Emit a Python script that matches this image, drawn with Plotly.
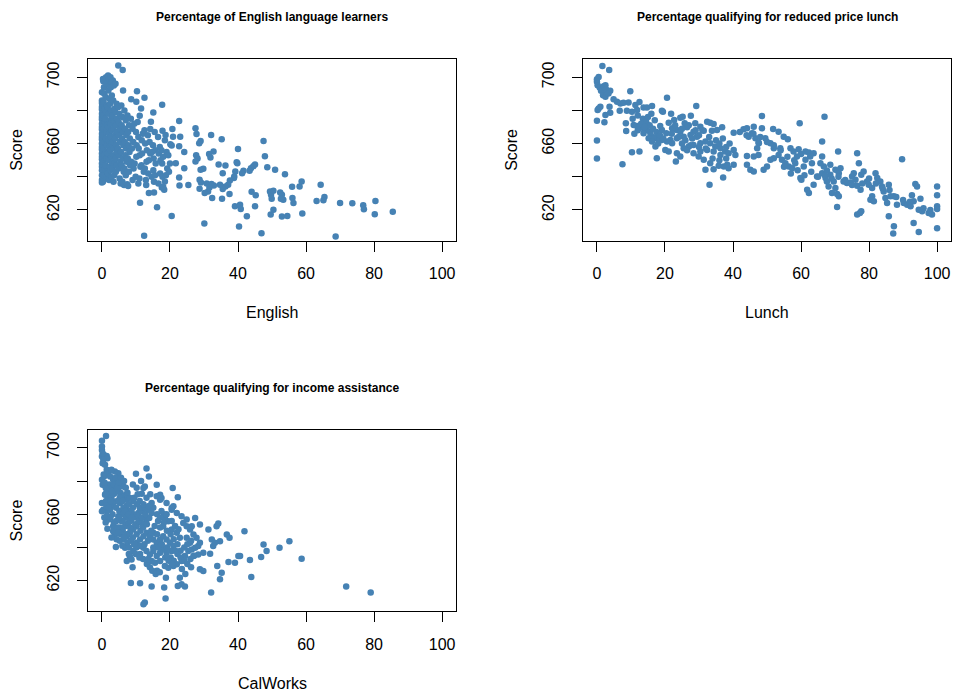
# three scatter panels: test score against school characteristics

import plotly.graph_objects as go

POINT_COLOR = "#4682B4"
FONT = "Liberation Sans, Arial, sans-serif"

titles = [
    "Percentage of English language learners",
    "Percentage qualifying for reduced price lunch",
    "Percentage qualifying for income assistance",
]
x_labels = ["English", "Lunch", "CalWorks"]
y_label = "Score"

x_ticks = [0, 20, 40, 60, 80, 100]
y_ticks = [620, 640, 660, 680, 700]
y_tick_text = ["620", "", "660", "", "700"]

# (English %, score)
english_pts = [
    (4.8, 707.0), (6.1, 704.4), (6.2, 692.0), (10.3, 691.6), (12.5, 687.6), (8.6, 686.8), (10.1, 685.2),
    (17.7, 683.4), (11.5, 681.2), (15.1, 678.8), (11.1, 676.8), (22.7, 673.6), (14.4, 673.2), (27.5, 669.2),
    (17.8, 667.8), (20.7, 668.8), (14.2, 668.8), (32.1, 665.2), (35.2, 662.6), (27.8, 665.8), (23.0, 664.2),
    (20.9, 664.2), (18.7, 665.2), (29.0, 661.6), (28.6, 660.2), (47.5, 661.6), (40.0, 656.8), (47.9, 652.4),
    (32.8, 655.2), (31.5, 653.8), (31.9, 651.6), (24.2, 655.0), (22.7, 658.4), (20.1, 659.6), (20.5, 658.8),
    (27.7, 653.0), (28.1, 651.0), (27.5, 649.2), (21.7, 648.2), (24.2, 645.2), (22.7, 639.6), (22.8, 634.8),
    (25.4, 635.0), (34.3, 647.4), (36.3, 646.8), (35.5, 642.2), (39.6, 648.8), (39.8, 648.2), (29.8, 644.8),
    (29.0, 644.2), (28.7, 638.2), (29.1, 636.6), (30.8, 636.0), (48.6, 645.8), (50.9, 644.2), (53.8, 641.6),
    (45.0, 647.4), (44.5, 646.4), (43.8, 645.2), (43.4, 643.6), (41.6, 643.6), (41.2, 642.2), (39.2, 643.2),
    (38.9, 640.2), (38.8, 639.2), (37.6, 637.8), (37.1, 635.2), (36.3, 634.2), (35.5, 632.6), (34.7, 635.2),
    (32.9, 634.8), (32.2, 635.6), (31.6, 633.6), (31.2, 631.2), (30.2, 630.2), (28.7, 632.8), (32.4, 627.2),
    (35.3, 626.8), (37.5, 629.6), (44.0, 631.0), (45.2, 628.8), (45.0, 622.2), (49.4, 631.2), (49.7, 629.2),
    (49.9, 626.8), (50.4, 631.6), (52.4, 630.6), (52.9, 629.2), (53.3, 626.2), (52.6, 626.8), (55.9, 634.0),
    (56.0, 627.2), (56.3, 624.2), (58.1, 634.2), (58.7, 637.2), (58.9, 617.8), (64.3, 635.2), (65.4, 627.8),
    (65.1, 625.8), (63.1, 625.4), (70.0, 624.2), (73.6, 624.0), (76.8, 622.8), (77.0, 620.4), (80.4, 625.4),
    (80.2, 617.4), (85.5, 619.0), (68.7, 604.0), (46.9, 606.0), (40.3, 610.0), (42.6, 616.2), (49.6, 617.2),
    (50.4, 620.2), (52.9, 616.0), (54.5, 616.4), (39.1, 622.2), (40.6, 623.2), (40.8, 620.6), (30.1, 611.8),
    (20.5, 616.4), (16.2, 621.6), (11.2, 624.4), (12.4, 604.4), (13.8, 630.2), (15.3, 630.6), (17.6, 633.6),
    (18.3, 632.2), (18.5, 637.2),
    (0.0, 686.0), (0.0, 684.5), (0.0, 682.0), (0.0, 680.5), (0.0, 678.0), (0.0, 676.0), (0.0, 674.5),
    (0.0, 672.0), (0.0, 670.0), (0.0, 668.5), (0.0, 666.0), (0.0, 664.0), (0.0, 662.5), (0.0, 660.0),
    (0.0, 658.0), (0.0, 656.5), (0.0, 654.0), (0.0, 652.0), (0.0, 650.5), (0.0, 648.0), (0.0, 646.0),
    (0.0, 644.0), (0.0, 641.0), (0.0, 638.0), (0.0, 636.5), (0.0, 691.0),
    (0.3, 699.0), (0.4, 697.5), (0.6, 694.0), (0.7, 690.0), (0.5, 685.0), (0.8, 681.0), (0.4, 677.0),
    (0.9, 673.0), (0.6, 669.0), (0.3, 665.0), (0.8, 661.0), (0.5, 657.0), (0.7, 653.0), (0.4, 649.0),
    (0.9, 645.0), (0.6, 641.0), (0.3, 637.0),
    (1.2, 700.0), (1.0, 698.0), (1.4, 696.0), (1.1, 688.0), (1.5, 683.0), (1.2, 679.0), (1.0, 675.0),
    (1.6, 671.0), (1.3, 667.0), (1.1, 663.0), (1.5, 659.0), (1.2, 655.0), (1.4, 651.0), (1.0, 647.0),
    (1.6, 643.0), (1.3, 639.0),
    (1.8, 701.0), (2.1, 699.0), (2.3, 695.0), (1.9, 692.0), (2.2, 687.0), (1.7, 682.0), (2.0, 678.0),
    (2.3, 674.0), (1.8, 670.0), (2.1, 666.0), (1.9, 662.0), (2.3, 658.0), (1.7, 654.0), (2.0, 650.0),
    (2.2, 646.0), (1.8, 642.0), (2.1, 638.0),
    (2.5, 700.0), (2.8, 697.0), (2.6, 694.0), (2.9, 689.0), (2.4, 684.0), (2.7, 680.0), (3.0, 676.0),
    (2.5, 672.0), (2.8, 668.0), (2.6, 664.0), (2.9, 660.0), (2.4, 656.0), (2.7, 652.0), (3.0, 648.0),
    (2.5, 644.0), (2.8, 640.0),
    (3.2, 698.0), (3.5, 695.0), (3.3, 686.0), (3.7, 681.0), (3.1, 677.0), (3.6, 673.0), (3.4, 669.0),
    (3.8, 665.0), (3.2, 661.0), (3.5, 657.0), (3.3, 653.0), (3.7, 649.0), (3.1, 645.0), (3.6, 641.0),
    (3.4, 637.0),
    (4.0, 696.0), (4.3, 684.0), (3.9, 679.0), (4.4, 675.0), (4.1, 671.0), (4.5, 667.0), (3.9, 663.0),
    (4.2, 659.0), (4.4, 655.0), (4.0, 651.0), (4.3, 647.0), (4.1, 643.0),
    (4.8, 682.0), (5.1, 678.0), (4.9, 673.0), (5.3, 669.0), (5.0, 665.0), (5.2, 661.0), (4.7, 657.0),
    (5.1, 653.0), (5.4, 649.0), (4.9, 645.0), (5.2, 639.0), (5.5, 636.0),
    (5.7, 683.0), (6.0, 676.0), (5.8, 671.0), (6.2, 667.0), (5.9, 663.0), (6.3, 659.0), (5.6, 655.0),
    (6.1, 651.0), (5.8, 647.0), (6.4, 643.0), (6.0, 637.0), (6.5, 635.0),
    (6.6, 680.0), (7.0, 674.0), (6.8, 669.0), (7.2, 665.0), (6.7, 661.0), (7.1, 657.0), (6.9, 653.0),
    (7.3, 649.0), (6.6, 645.0), (7.0, 641.0), (7.4, 635.5),
    (7.5, 677.0), (8.0, 671.0), (7.7, 667.0), (8.2, 663.0), (7.8, 659.0), (8.1, 655.0), (7.6, 651.0),
    (8.3, 647.0), (7.9, 643.0), (7.7, 634.5),
    (8.5, 675.0), (9.0, 669.0), (9.2, 661.0), (8.8, 657.0), (8.6, 649.0),
    (9.3, 645.0), (9.0, 638.0),
    (9.5, 672.0), (10.0, 667.0), (10.2, 659.0), (10.1, 652.0), (9.6, 648.0),
    (9.9, 640.0),
    (10.5, 673.0), (10.7, 664.0), (10.8, 657.0), (11.1, 653.0),
    (11.3, 646.0), (11.0, 639.0), (10.7, 636.0),
    (12.0, 666.0), (11.7, 662.0), (11.8, 654.0), (11.6, 647.0),
    (12.3, 643.0),
    (12.5, 668.0), (12.7, 660.0), (13.2, 656.0), (13.1, 649.0), (12.6, 645.0),
    (12.9, 638.0), (13.0, 635.0),
    (13.5, 665.0), (14.0, 661.0), (14.2, 654.0), (13.8, 650.0), (13.6, 642.0),
    (15.0, 659.0), (14.7, 655.0), (15.2, 651.0), (15.1, 644.0), (14.6, 640.0),
    (15.3, 637.0),
    (15.5, 667.0), (15.7, 656.0), (15.8, 648.0), (15.6, 641.0),
    (16.5, 664.0), (17.0, 658.0), (16.7, 654.0), (17.2, 650.0), (17.1, 642.0), (16.6, 636.0),
    (17.5, 656.0), (18.0, 652.0), (17.7, 648.0), (17.8, 640.0), (18.0, 634.0),
    (18.5, 662.0), (19.0, 655.0), (19.2, 645.0), (18.8, 641.0),
    (19.5, 653.0), (20.0, 648.0), (19.7, 643.0),
]

# (Lunch %, score)
lunch_pts = [
    (1.6, 706.8), (3.6, 704.4), (0.0, 698.8), (0.5, 700.2), (0.0, 697.2), (0.2, 695.2), (0.8, 693.8),
    (1.2, 691.8), (2.0, 694.6), (2.5, 695.2), (2.2, 692.2), (2.7, 692.6), (3.9, 691.8), (1.8, 689.2),
    (2.5, 688.2), (3.4, 690.2), (4.9, 686.8), (5.9, 685.2), (6.9, 684.2), (7.8, 684.6), (9.3, 684.8),
    (9.8, 691.6), (11.3, 683.2), (12.5, 685.0), (13.7, 681.8), (14.7, 681.8), (16.2, 682.6), (11.8, 680.2),
    (10.3, 679.2), (8.8, 679.8), (6.7, 679.8), (8.5, 672.2), (8.6, 667.6), (10.3, 654.8), (12.5, 655.2),
    (7.5, 647.6), (0.0, 651.0), (0.0, 661.8), (0.0, 673.8), (2.2, 672.8), (0.2, 680.2), (0.5, 681.2),
    (1.0, 682.2), (2.5, 677.2), (3.9, 678.6), (3.7, 682.2), (20.6, 687.6), (19.4, 679.2), (19.1, 679.8),
    (21.8, 678.0), (21.1, 672.6), (22.7, 674.2), (24.5, 675.6), (25.2, 676.2), (27.6, 676.8), (29.2, 682.6),
    (25.8, 672.2), (23.5, 668.2), (22.1, 669.2), (18.6, 670.6), (19.1, 668.2), (20.4, 666.2), (24.5, 667.2),
    (26.5, 669.8), (28.9, 672.2), (30.4, 670.2), (32.4, 673.2), (33.3, 672.6), (34.3, 671.8), (36.8, 669.8),
    (35.3, 668.2), (33.8, 667.8), (31.4, 667.8), (28.4, 667.2), (29.4, 664.2), (27.5, 665.2), (25.5, 664.2),
    (23.5, 663.2), (21.6, 662.2), (20.6, 661.2), (22.1, 660.2), (19.1, 662.2), (17.6, 663.2), (16.7, 663.8),
    (15.7, 666.2), (14.7, 668.2), (13.7, 669.2), (12.7, 670.2), (11.8, 670.6), (10.8, 671.2), (13.7, 666.2),
    (15.2, 663.2), (16.2, 661.2), (17.2, 658.2), (17.6, 651.2), (20.1, 656.2), (21.1, 655.2), (23.5, 654.2),
    (24.5, 652.2), (23.2, 649.2), (25.5, 657.2), (27.0, 658.2), (28.4, 659.2), (30.4, 660.2), (31.9, 661.2),
    (33.3, 660.2), (34.8, 658.2), (36.3, 657.2), (37.7, 655.2), (38.7, 654.2), (40.2, 656.2), (40.7, 653.2),
    (36.3, 653.2), (34.3, 655.2), (32.4, 656.2), (30.4, 655.2), (28.4, 654.2), (29.9, 652.2), (31.4, 650.2),
    (33.3, 648.2), (34.3, 644.6), (35.8, 646.6), (37.3, 646.2), (38.7, 645.2), (40.2, 647.2), (31.9, 644.2),
    (33.1, 635.2), (37.1, 639.6), (38.3, 647.2), (40.2, 666.6), (43.1, 668.6), (44.1, 669.2), (46.1, 670.2),
    (44.6, 664.2), (45.6, 666.2), (46.6, 663.2), (47.5, 660.6), (48.5, 669.2), (47.6, 660.2), (47.1, 657.2),
    (47.5, 653.2), (46.1, 652.2), (44.1, 652.6), (45.1, 644.2), (46.1, 643.2), (44.1, 647.2), (49.0, 644.2),
    (50.0, 646.2), (51.0, 650.2), (52.0, 651.2), (52.0, 657.2), (51.0, 660.2), (49.5, 663.2), (48.5, 676.6),
    (51.8, 668.8), (53.4, 667.2), (54.9, 664.2), (56.1, 662.6), (53.9, 657.2), (53.4, 653.2), (54.4, 650.2),
    (55.4, 648.2), (56.4, 646.2), (57.4, 645.2), (58.3, 648.2), (58.8, 652.2), (57.8, 655.2), (56.9, 657.2),
    (59.3, 656.6), (59.6, 672.2), (60.0, 653.8), (61.3, 655.2), (62.3, 654.6), (62.7, 652.2), (63.2, 648.2),
    (63.7, 654.2), (61.3, 650.2), (60.8, 646.2), (59.8, 639.2), (60.1, 638.2), (61.8, 632.2), (62.3, 630.2),
    (63.7, 635.2), (64.7, 640.2), (66.2, 642.2), (67.2, 639.2), (67.6, 637.2), (68.1, 634.2), (69.1, 630.2),
    (70.6, 629.6), (71.1, 628.2), (70.1, 633.2), (69.6, 637.2), (68.6, 641.2), (67.6, 643.8), (66.7, 646.2),
    (65.7, 648.2), (66.2, 652.2), (66.9, 676.2), (66.2, 661.2), (68.6, 647.2), (70.1, 644.2), (71.6, 645.2),
    (71.1, 642.2), (72.5, 637.2), (73.5, 636.2), (74.5, 636.6), (75.0, 640.2), (75.5, 642.2), (76.0, 638.2),
    (76.5, 634.6), (77.5, 632.2), (77.0, 648.2), (76.5, 654.2), (77.7, 641.2), (78.4, 643.2), (79.4, 637.2),
    (79.9, 635.2), (80.9, 633.2), (80.4, 626.2), (81.4, 625.2), (80.9, 628.2), (81.9, 642.2), (82.4, 639.2),
    (83.3, 637.2), (83.8, 634.2), (84.3, 631.2), (84.8, 627.2), (85.3, 624.2), (85.8, 635.2), (86.3, 628.2),
    (87.3, 628.2), (88.0, 627.8), (88.2, 623.2), (87.3, 610.2), (87.1, 605.8), (85.8, 616.2), (89.7, 650.6),
    (90.2, 624.2), (91.2, 623.2), (92.2, 622.2), (92.6, 628.8), (93.1, 625.2), (93.6, 635.6), (94.1, 634.2),
    (93.1, 612.2), (94.6, 606.8), (95.1, 626.8), (94.6, 620.2), (95.6, 619.2), (97.5, 618.2), (98.5, 617.2),
    (100.0, 634.2), (100.0, 628.8), (100.0, 622.2), (100.0, 620.6), (100.0, 609.0), (76.5, 617.2),
    (77.3, 618.2), (77.7, 619.2), (70.6, 621.8), (70.9, 655.2),
    (10.5, 675.0), (12.0, 677.0), (13.5, 675.0), (14.5, 673.0), (15.5, 671.0), (16.5, 669.0), (17.5, 667.0),
    (18.5, 665.0), (15.0, 676.0), (16.0, 678.0), (17.0, 674.0), (13.0, 672.0), (14.0, 670.0), (12.0, 668.0),
    (11.0, 666.0), (19.5, 663.0), (18.0, 660.0), (22.0, 666.0), (24.0, 664.0), (26.0, 662.0), (28.0, 663.0),
    (30.0, 665.0), (31.0, 668.0), (33.0, 664.0), (35.0, 662.0), (36.0, 660.0), (38.0, 658.0), (32.0, 657.0),
    (30.0, 658.0), (26.5, 656.0), (27.5, 659.0), (25.0, 660.0), (23.0, 671.0), (25.0, 669.0), (27.0, 671.0),
    (29.0, 668.0), (34.0, 651.0), (36.0, 650.0), (38.0, 651.0), (39.0, 660.0), (37.0, 663.0), (42.0, 667.0),
    (44.0, 665.0), (46.0, 666.0), (48.0, 664.0), (50.0, 661.0), (52.0, 659.0), (54.0, 656.0), (56.0, 652.0),
    (58.0, 650.0), (55.0, 646.0), (57.0, 642.0), (59.0, 644.0), (61.0, 641.0), (63.0, 643.0), (65.0, 640.0),
    (67.0, 641.0), (69.0, 639.0), (71.0, 640.0), (73.0, 638.0), (75.0, 635.0), (78.0, 636.0), (80.0, 639.0),
    (82.0, 636.0), (84.0, 633.0), (86.0, 632.0), (90.0, 626.0), (92.0, 625.0), (96.0, 621.0), (98.0, 620.0),
]

# (CalWorks %, score)
calworks_pts = [
    (1.2, 707.2), (0.0, 704.4), (0.0, 700.8), (0.0, 698.8), (0.2, 696.8), (0.0, 694.8), (0.6, 695.8),
    (1.4, 695.2), (1.6, 693.8), (0.4, 692.8), (0.9, 689.8), (0.2, 690.8), (0.0, 680.8), (0.2, 677.8),
    (0.6, 682.8), (1.4, 686.8), (1.9, 684.8), (2.4, 682.8), (3.3, 680.8), (4.3, 678.8), (4.8, 684.8),
    (3.8, 685.8), (2.8, 686.8), (5.3, 680.8), (5.8, 677.8), (6.3, 676.8), (2.4, 675.8), (1.4, 673.8),
    (0.9, 671.8), (1.9, 669.8), (2.8, 670.8), (3.8, 672.8), (4.8, 674.8), (5.5, 672.8), (6.3, 670.8),
    (7.3, 668.8), (5.3, 666.8), (4.3, 667.8), (3.3, 664.8), (2.4, 662.8), (1.4, 661.8), (0.4, 662.8),
    (0.0, 666.8), (0.0, 661.8), (1.9, 656.8), (1.6, 651.2), (3.3, 652.8), (3.8, 647.8), (4.1, 640.2),
    (3.3, 649.8), (4.8, 658.8), (5.8, 655.8), (6.8, 652.8), (7.7, 654.8), (8.7, 656.8), (9.7, 658.8),
    (10.7, 660.8), (11.7, 661.8), (12.6, 663.8), (13.6, 662.8), (14.6, 660.8), (13.1, 656.8), (11.7, 654.8),
    (10.2, 652.8), (9.2, 650.8), (8.2, 648.8), (7.3, 646.8), (6.3, 644.8), (6.8, 639.8), (8.2, 634.8),
    (8.7, 632.8), (7.3, 631.8), (9.2, 637.8), (10.2, 642.8), (11.2, 644.8), (12.2, 646.8), (13.1, 648.8),
    (14.1, 646.8), (15.1, 644.8), (16.1, 642.8), (17.1, 644.8), (18.0, 646.8), (19.0, 644.8), (20.0, 642.8),
    (21.0, 640.8), (20.5, 637.8), (19.0, 636.8), (18.0, 638.8), (17.1, 636.8), (16.1, 634.8), (15.1, 637.8),
    (14.1, 635.8), (13.1, 637.8), (12.2, 639.8), (11.2, 640.8), (14.6, 631.8), (15.6, 630.8), (17.1, 631.8),
    (18.5, 628.8), (19.5, 627.8), (21.0, 628.8), (22.0, 629.8), (23.4, 631.8), (24.4, 634.8), (25.4, 637.8),
    (26.4, 638.8), (27.4, 639.8), (28.3, 640.8), (28.8, 642.8), (27.8, 645.8), (26.9, 647.8), (25.9, 650.8),
    (24.9, 652.8), (23.9, 654.8), (26.4, 652.8), (28.8, 653.8), (27.4, 657.8), (24.9, 656.8), (23.4, 658.8),
    (22.0, 660.8), (20.5, 662.8), (21.0, 664.8), (19.0, 666.8), (17.1, 668.8), (16.1, 670.8), (14.6, 666.8),
    (18.0, 652.8), (19.5, 655.8), (20.5, 650.8), (22.0, 648.8), (22.9, 645.8), (24.9, 645.8), (25.9, 642.8),
    (26.9, 634.8), (28.3, 635.8), (29.8, 636.8), (31.8, 636.2), (32.7, 640.8), (32.3, 644.8), (31.3, 650.8),
    (33.7, 652.8), (34.2, 654.4), (34.7, 643.8), (33.2, 642.8), (36.7, 647.8), (37.5, 645.8), (41.9, 649.8),
    (40.6, 634.8), (40.1, 634.8), (43.5, 632.4), (39.1, 630.8), (37.2, 631.2), (35.2, 624.8), (34.7, 620.8),
    (33.9, 628.8), (28.8, 626.8), (29.8, 625.8), (22.9, 621.8), (23.4, 617.8), (24.4, 616.4), (22.3, 616.8),
    (18.8, 621.8), (18.3, 615.8), (14.6, 616.4), (11.2, 618.4), (8.5, 618.6), (18.7, 609.2), (12.6, 606.8),
    (12.2, 605.8), (32.1, 612.8), (43.9, 622.2), (46.8, 634.2), (47.5, 641.8), (48.4, 637.8), (52.2, 639.8),
    (55.1, 643.8), (58.7, 633.2), (71.8, 616.4), (79.0, 612.8), (10.0, 684.4), (13.1, 687.6), (13.8, 682.8),
    (12.6, 676.8), (12.2, 675.8), (11.7, 672.4), (17.1, 671.8), (17.5, 669.8), (20.8, 675.8), (22.3, 670.2),
    (20.5, 663.8), (16.1, 677.8), (13.9, 657.8), (15.1, 648.8), (18.5, 657.8),
    (2.1, 678.0), (3.2, 676.0), (4.1, 674.0), (5.2, 670.0), (6.1, 668.0), (7.2, 665.0), (8.1, 662.0),
    (9.3, 660.0), (10.2, 658.0), (3.1, 668.0), (4.2, 664.0), (5.1, 662.0), (6.2, 660.0), (7.1, 658.0),
    (8.3, 656.0), (9.1, 664.0), (10.3, 666.0), (11.1, 664.0), (6.3, 664.0), (7.2, 672.0), (8.1, 670.0),
    (9.2, 668.0), (1.1, 676.0), (2.2, 672.0), (3.1, 660.0), (4.2, 656.0), (5.3, 652.0), (6.1, 650.0),
    (7.2, 648.0), (8.3, 652.0), (9.1, 646.0), (10.2, 648.0), (11.3, 650.0), (12.1, 652.0), (13.2, 654.0),
    (4.3, 645.0), (5.2, 644.0), (6.1, 656.0), (2.1, 666.0), (1.2, 668.0), (3.3, 672.0), (5.1, 658.0),
    (10.1, 640.0), (11.2, 636.0), (12.1, 633.0), (13.2, 630.0), (14.1, 628.0), (16.2, 626.0), (15.1, 640.0),
    (16.2, 648.0), (17.1, 652.0), (18.2, 660.0), (19.1, 650.0), (20.2, 648.0), (21.1, 645.0), (22.2, 642.0),
    (23.1, 638.0), (24.2, 640.0), (25.1, 642.0), (26.2, 644.0), (9.1, 678.0), (10.2, 676.0), (11.1, 668.0),
    (12.2, 666.0), (13.1, 670.0), (14.2, 672.0), (15.1, 664.0), (16.2, 660.0), (17.1, 658.0), (18.2, 655.0),
    (19.1, 640.0), (20.2, 634.0), (21.1, 632.0), (22.2, 636.0), (23.1, 634.0), (24.2, 632.0), (25.1, 630.0),
    (26.2, 628.0), (27.1, 635.0),
    (0.5, 684.0), (0.8, 679.0), (1.0, 672.0), (1.3, 665.0), (0.7, 658.0), (1.1, 655.0), (1.5, 659.0),
    (2.0, 664.0), (2.6, 668.0), (3.0, 674.0), (3.5, 678.0), (4.0, 682.0), (4.5, 676.0), (5.0, 679.0),
    (5.6, 682.0), (6.5, 680.0), (7.0, 676.0), (7.5, 673.0), (8.0, 666.0), (8.6, 662.0), (9.5, 670.0),
    (10.5, 672.0), (11.5, 680.0), (6.8, 662.0), (7.8, 660.0), (8.8, 658.0), (9.8, 654.0), (10.8, 656.0),
    (11.8, 658.0), (12.8, 660.0), (13.8, 665.0), (2.5, 658.0), (3.5, 655.0), (4.5, 652.0), (5.5, 648.0),
    (6.5, 646.0), (7.5, 643.0), (8.5, 644.0), (9.5, 642.0), (2.8, 646.0), (4.8, 649.0), (6.0, 641.0),
    (8.0, 640.0), (9.9, 636.0), (11.0, 634.0), (12.5, 642.0), (13.5, 644.0), (14.5, 650.0), (15.5, 653.0),
    (16.5, 656.0), (17.5, 662.0), (19.0, 660.0), (20.5, 656.0), (21.5, 653.0), (22.5, 651.0), (16.6, 640.0),
    (17.6, 642.0), (18.6, 634.0), (19.6, 632.0), (20.6, 630.0), (21.6, 638.0), (13.6, 633.0), (14.8, 626.0),
    (15.8, 624.0), (17.0, 625.0), (23.5, 627.0), (24.5, 624.0), (26.0, 633.0), (9.0, 628.0), (7.9, 636.0),
]

panels = [english_pts, lunch_pts, calworks_pts]

# panel boxes in paper coordinates: (x domain, y domain)
domains = [
    ([0.0927, 0.4782], [0.6522, 0.9143]),
    ([0.6121, 0.9976], [0.6522, 0.9143]),
    ([0.0927, 0.4782], [0.1166, 0.3786]),
]

fig = go.Figure()

axis_style = dict(
    showline=True, linecolor="black", linewidth=1, mirror=True,
    ticks="outside", ticklen=10, tickcolor="black", tickwidth=1,
    showgrid=False, zeroline=False,
    tickfont=dict(family=FONT, size=16, color="black"),
)

annotations = []
for i, pts in enumerate(panels):
    n = "" if i == 0 else str(i + 1)
    xs = [p[0] for p in pts]
    ys = [p[1] for p in pts]
    fig.add_trace(go.Scatter(
        x=xs, y=ys, mode="markers",
        marker=dict(color=POINT_COLOR, size=6.5, line=dict(width=0)),
        xaxis="x" + n, yaxis="y" + n,
        hoverinfo="skip", showlegend=False,
    ))

    xd, yd = domains[i]
    fig.update_layout({
        "xaxis" + n: dict(axis_style, domain=xd, range=[-4, 104], tickvals=x_ticks,
                          anchor="y" + n, ticklabelstandoff=8),
        "yaxis" + n: dict(axis_style, domain=yd, range=[601.5, 710.8], tickvals=y_ticks,
                          ticktext=y_tick_text, tickangle=-90, anchor="x" + n,
                          ticklabelstandoff=12),
    })

    cx = (xd[0] + xd[1]) / 2
    # panel title
    annotations.append(dict(
        text="<b>" + titles[i] + "</b>", x=cx, y=yd[1], xref="paper", yref="paper",
        yshift=42.5, xanchor="center", yanchor="middle", showarrow=False,
        font=dict(family=FONT, size=12, color="black"),
    ))
    # x axis title
    annotations.append(dict(
        text=x_labels[i], x=cx, y=yd[0], xref="paper", yref="paper",
        yshift=-72, xanchor="center", yanchor="middle", showarrow=False,
        font=dict(family=FONT, size=16, color="black"),
    ))
    # y axis title
    annotations.append(dict(
        text=y_label, x=xd[0], y=(yd[0] + yd[1]) / 2, xref="paper", yref="paper",
        xshift=-71.5, textangle=-90, xanchor="center", yanchor="middle", showarrow=False,
        font=dict(family=FONT, size=16, color="black"),
    ))

fig.update_layout(
    width=953, height=692,
    margin=dict(l=0, r=0, t=0, b=0),
    paper_bgcolor="white", plot_bgcolor="white",
    annotations=annotations,
    font=dict(family=FONT),
)

# drop the page's default body margin so the 953x692 figure fills the window
fig.write_html(
    "out.html",
    config={"displayModeBar": False},
    post_script="document.body.style.margin='0';document.body.style.overflow='hidden';",
)
